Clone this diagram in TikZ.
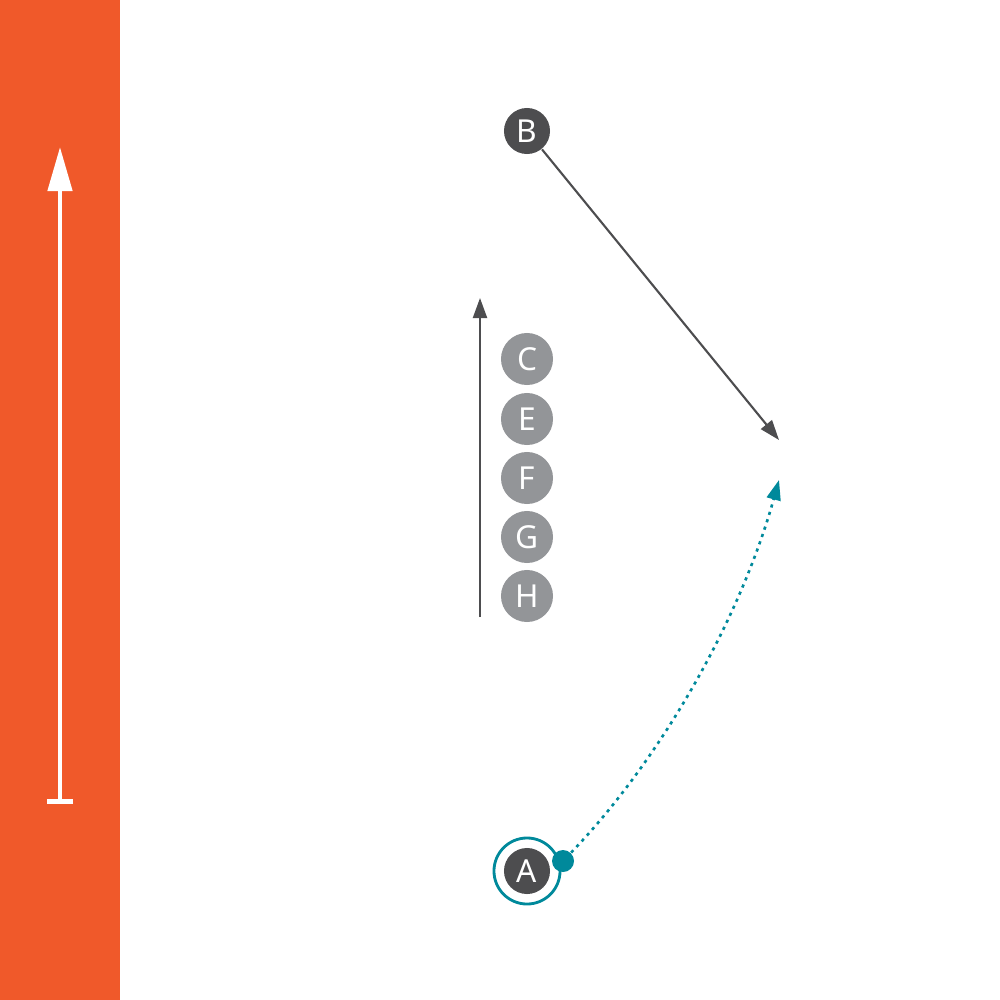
\documentclass[tikz,border=0pt]{standalone}
\usepackage{fontspec}
\setmainfont{Noto Sans}
\usetikzlibrary{arrows.meta}
\definecolor{orangeband}{HTML}{F0592A}
\definecolor{darkdisc}{HTML}{4D4D4F}
\definecolor{greydisc}{HTML}{939598}
\definecolor{tealc}{HTML}{00899B}
\tikzset{
  px/.style={x=0.01cm,y=-0.01cm},
  darkplayer/.style={circle,fill=darkdisc,minimum size=0.46cm,inner sep=0pt,text=white,font=\fontsize{9}{9}\selectfont},
  greyplayer/.style={circle,fill=greydisc,minimum size=0.52cm,inner sep=0pt,text=white,font=\fontsize{9}{9}\selectfont},
  darkarrow/.style={draw=darkdisc,line width=0.6pt,-{Triangle[length=0.2cm,width=0.14cm]}},
  tealarrow/.style={draw=tealc,line width=0.75pt,dash pattern=on 0.9pt off 1.3pt,-{Triangle[length=0.2cm,width=0.14cm]}},
}
\begin{document}
\begin{tikzpicture}[px]
\useasboundingbox (0,0) rectangle (1000,1000);
\fill[orangeband] (0,0) rectangle (120,1000);
% white arrow on band
\coordinate (wb) at (60,804);
\coordinate (wt) at (60,147);
\draw[white,line width=1.3pt,{Bar[width=0.26cm]}-{Triangle[length=0.44cm,width=0.24cm]}] (wb) -- (wt);
% players
\node[darkplayer] (B) at (527,131) {B};
\node[greyplayer] (C) at (527,359) {C};
\node[greyplayer] (E) at (527,419) {E};
\node[greyplayer] (F) at (527,478) {F};
\node[greyplayer] (G) at (527,537) {G};
\node[greyplayer] (H) at (527,596) {H};
\node[darkplayer] (A) at (527,871) {A};
\node[circle,draw=tealc,line width=0.8pt,minimum size=0.66cm,inner sep=0pt] (Aring) at (527,871) {};
\node[circle,fill=tealc,minimum size=0.22cm,inner sep=0pt] (Adot) at (563,861) {};
% targets
\coordinate (T1) at (779,440);
\coordinate (T2) at (779,480);
\coordinate (Vb) at (480,617);
\coordinate (Vt) at (480,298);
\draw[darkarrow] (B) -- (T1);
\draw[darkarrow] (Vb) -- (Vt);
\draw[tealarrow] (Adot) .. controls (660,760) and (740,620) .. (T2);
\end{tikzpicture}
\end{document}
